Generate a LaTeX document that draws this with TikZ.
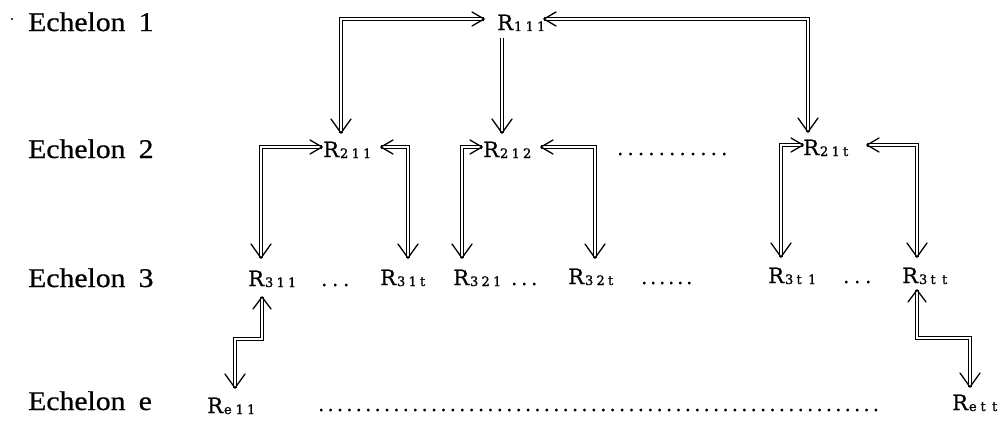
\documentclass[tikz,border=0pt]{standalone}
\usepackage{fontspec}
\usepackage{graphicx}
\setmainfont{Liberation Serif}[FakeBold=0.6]
\newfontfamily\rfont{DejaVu Serif}[FakeBold=0.8]
\usetikzlibrary{calc}
\newcommand\Rl[3]{R\kern1pt\raisebox{-1pt}{\fontsize{13}{13}\selectfont\makebox[11.5pt][l]{#1}\makebox[11.5pt][l]{#2}#3}}
\newcommand\ech[1]{\scalebox{1.1}[1]{Echelon\hspace{12pt}#1}}
\newcommand\dotrow[2]{\foreach \i in {1,...,#1}{\makebox[#2][l]{.}}}
\begin{document}
\begin{tikzpicture}[x=1pt,y=-1pt,
  lab/.style={anchor=base west, inner sep=0pt, font=\fontsize{27}{30}\selectfont},
  rn/.style={anchor=base west, inner sep=0pt, font=\rfont\fontsize{21}{24}\selectfont},
  dt/.style={anchor=base west, inner sep=0pt, font=\rfont\fontsize{19}{24}\selectfont},
  dbl/.style={draw=black, double=white, line width=1.2pt, double distance=2.2pt, line join=miter},
  tipline/.style={line width=1.3pt, line cap=round, line join=miter},
  pics/arrD/.style={code={\draw[tipline] (-10,-14) -- (0,0) -- (10,-14);}},
  pics/arrU/.style={code={\draw[tipline] (-9,12) -- (0,0) -- (9,12);}},
  pics/arrR/.style={code={\draw[tipline] (-12,-7) -- (0,0) -- (-12,7);}},
  pics/arrL/.style={code={\draw[tipline] (12,-7) -- (0,0) -- (12,7);}},
]
\fill[white] (0,0) rectangle (1006,423);
\useasboundingbox (0,0) rectangle (1006,423);

% echelon labels
\fill (12,19) circle (1.2);
\node[lab] (E1) at (28,31) {\ech{1}};
\node[lab] (E2) at (28,158) {\ech{2}};
\node[lab] (E3) at (28,287) {\ech{3}};
\node[lab] (Ee) at (28,410) {\ech{e}};

% nodes
\node[rn] (R111) at (497,30) {\Rl{1}{1}{1}};
\node[rn] (R211) at (323,157) {\Rl{2}{1}{1}};
\node[rn] (R212) at (483,157) {\Rl{2}{1}{2}};
\node[rn] (R21t) at (803,155) {\Rl{2}{1}{t}};
\node[rn] (R311) at (248,286) {\Rl{3}{1}{1}};
\node[rn] (R31t) at (380,285) {\Rl{3}{1}{t}};
\node[rn] (R321) at (453,285) {\Rl{3}{2}{1}};
\node[rn] (R32t) at (568,284) {\Rl{3}{2}{t}};
\node[rn] (R3t1) at (768,283) {\Rl{3}{t}{1}};
\node[rn] (R3tt) at (902,283) {\Rl{3}{t}{t}};
\node[rn] (Re11) at (207,413) {\Rl{e}{1}{1}};
\node[rn] (Rett) at (952,410) {\Rl{e}{t}{t}};

% dots
\node[dt] (d2) at (617,155) {\dotrow{11}{10.4pt}};
\node[dt] (d31) at (321,286) {\dotrow{3}{11pt}};
\node[dt] (d32) at (511,285) {\dotrow{3}{10pt}};
\node[dt] (d33) at (641,284) {\dotrow{6}{9pt}};
\node[dt] (d34) at (843,283) {\dotrow{3}{11pt}};
\node[dt] (de) at (318,411) {\dotrow{60}{9.4pt}};

% connector end points
\coordinate (t1a) at ($(R111.base west)+(-13,-11)$);
\coordinate (t1b) at ($(R211.base west)+(18,-24)$);
\coordinate (s2)  at ($(R111.base west)+(5,8)$);
\coordinate (t2)  at ($(R212.base west)+(19,-24)$);
\coordinate (t3a) at ($(R111.base west)+(47,-11)$);
\coordinate (t3b) at ($(R21t.base west)+(5,-23)$);
\coordinate (t4a) at ($(R211.base west)+(-1,-10)$);
\coordinate (t4b) at ($(R311.base west)+(13,-28)$);
\coordinate (t5a) at ($(R211.base west)+(58,-10)$);
\coordinate (t5b) at ($(R31t.base west)+(28,-27)$);
\coordinate (t6a) at ($(R212.base west)+(-1,-10)$);
\coordinate (t6b) at ($(R321.base west)+(9,-27)$);
\coordinate (t7a) at ($(R212.base west)+(58,-10)$);
\coordinate (t7b) at ($(R32t.base west)+(27,-26)$);
\coordinate (t8a) at ($(R21t.base west)+(0,-10)$);
\coordinate (t8b) at ($(R3t1.base west)+(13,-26)$);
\coordinate (t9a) at ($(R21t.base west)+(64,-10)$);
\coordinate (t9b) at ($(R3tt.base west)+(15,-26)$);
\coordinate (t10a) at ($(R311.base west)+(14,11)$);
\coordinate (t10b) at ($(Re11.base west)+(28,-25)$);
\coordinate (t11a) at ($(R3tt.base west)+(15,7)$);
\coordinate (t11b) at ($(Rett.base west)+(18,-23)$);

% connectors
\draw[dbl] (t1a) -| (t1b);
\draw[dbl] (s2) -- (t2);
\draw[dbl] (t3a) -| (t3b);
\draw[dbl] (t4a) -| (t4b);
\draw[dbl] (t5a) -| (t5b);
\draw[dbl] (t6a) -| (t6b);
\draw[dbl] (t7a) -| (t7b);
\draw[dbl] (t8a) -| (t8b);
\draw[dbl] (t9a) -| (t9b);
\draw[dbl] (t10a) -- ++(0,42) -| (t10b);
\draw[dbl] (t11a) -- ++(0,48) -| (t11b);

% arrow heads
\pic at (t1a) {arrR};  \pic at (t1b) {arrD};
\pic at (t2) {arrD};
\pic at (t3a) {arrL};  \pic at (t3b) {arrD};
\pic at (t4a) {arrR};  \pic at (t4b) {arrD};
\pic at (t5a) {arrL};  \pic at (t5b) {arrD};
\pic at (t6a) {arrR};  \pic at (t6b) {arrD};
\pic at (t7a) {arrL};  \pic at (t7b) {arrD};
\pic at (t8a) {arrR};  \pic at (t8b) {arrD};
\pic at (t9a) {arrL};  \pic at (t9b) {arrD};
\pic at (t10a) {arrU}; \pic at (t10b) {arrD};
\pic at (t11a) {arrU}; \pic at (t11b) {arrD};
\end{tikzpicture}
\end{document}
